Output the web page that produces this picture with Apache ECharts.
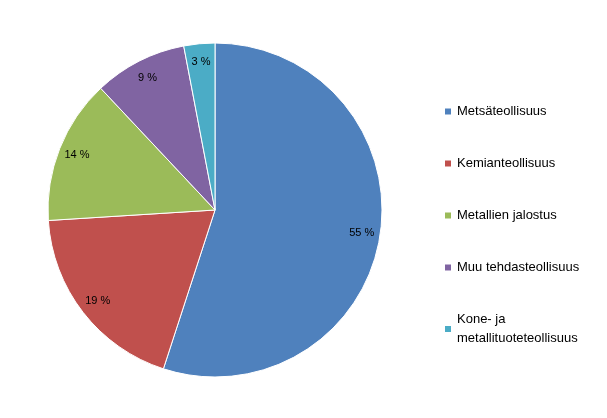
<!DOCTYPE html>
<html><head><meta charset="utf-8">
<script src="https://cdn.jsdelivr.net/npm/echarts@6/dist/echarts.min.js"></script>
<style>html,body{margin:0;padding:0;background:#fff}#c{width:607px;height:418px}</style>
</head><body><div id="c"></div>
<script>
const categories = ["Metsäteollisuus","Kemianteollisuus","Metallien jalostus","Muu tehdasteollisuus","Kone- ja\nmetallituoteteollisuus"];
const values = [55,19,14,9,3];
const colors = ["#4F81BD","#C0504D","#9BBB59","#8064A2","#4BACC6"];
const data = categories.map((n,i)=>({name:n,value:values[i],itemStyle:{color:colors[i]}}));
const chart = echarts.init(document.getElementById('c'));
chart.setOption({
  animation:false,
  textStyle:{fontFamily:'Liberation Sans'},
  legend:{orient:'vertical',left:438,top:97,itemWidth:8,itemHeight:8,itemGap:33,icon:'rect',
    textStyle:{fontSize:13,color:'#000',lineHeight:19},data:categories},
  series:[
    {type:'pie',center:[215,210],radius:[0,167],startAngle:90,clockwise:true,
     label:{show:false},labelLine:{show:false},data:data,silent:true,
     itemStyle:{borderColor:'#fff',borderWidth:1}},
    {type:'pie',center:[215,210],radius:[124,167],startAngle:90,clockwise:true,silent:true,
     legendHoverLink:false,
     label:{show:true,position:'inside',formatter:p=>p.value+' %',color:'#000',fontSize:11},
     itemStyle:{color:'transparent'},labelLine:{show:false},
     data:categories.map((n,i)=>({name:n+' ',value:values[i]}))}
  ]
});
</script></body></html>
